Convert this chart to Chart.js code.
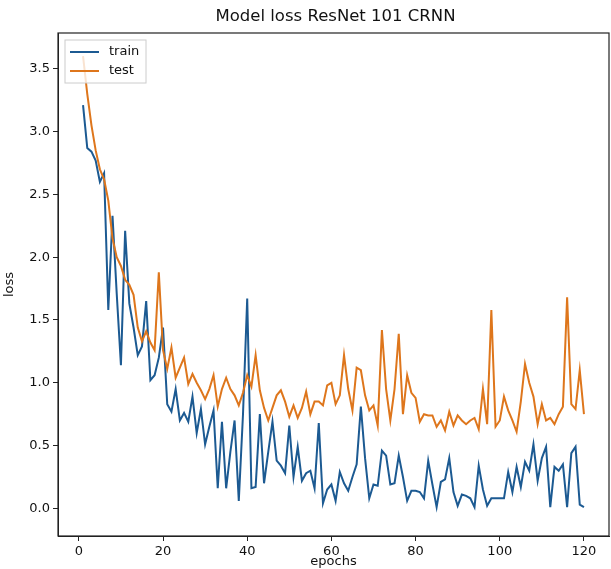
<!DOCTYPE html>
<html>
<head>
<meta charset="utf-8">
<script src="https://cdn.jsdelivr.net/npm/chart.js@4/dist/chart.umd.min.js"></script>
<style>
  html, body { margin: 0; padding: 0; background: #fff; }
  #wrap { width: 611px; height: 569px; }
</style>
</head>
<body>
<div id="wrap"><canvas id="lossChart" width="611" height="569"></canvas></div>
<script>
// epochs 1..120
const epochs = Array.from({ length: 120 }, (_, i) => i + 1);

const trainLoss = [
    3.21, 2.87, 2.84, 2.77, 2.60, 2.67, 1.58, 2.33, 1.71, 1.14,
    2.21, 1.63, 1.44, 1.22, 1.29, 1.65, 1.02, 1.06, 1.20, 1.44,
    0.83, 0.77, 0.95, 0.70, 0.76, 0.69, 0.89, 0.60, 0.79, 0.51,
    0.65, 0.78, 0.16, 0.69, 0.16, 0.45, 0.70, 0.06, 0.75, 1.67,
    0.16, 0.17, 0.75, 0.20, 0.45, 0.69, 0.38, 0.34, 0.28, 0.66,
    0.25, 0.49, 0.22, 0.28, 0.30, 0.16, 0.68, 0.04, 0.15, 0.19,
    0.06, 0.29, 0.20, 0.14, 0.25, 0.35, 0.81, 0.40, 0.08, 0.19,
    0.18, 0.46, 0.42, 0.19, 0.20, 0.42, 0.25, 0.06, 0.14, 0.14,
    0.13, 0.08, 0.38, 0.19, 0.01, 0.21, 0.23, 0.40, 0.13, 0.02,
    0.11, 0.10, 0.08, 0.01, 0.34, 0.15, 0.02, 0.08, 0.08, 0.08,
    0.08, 0.29, 0.13, 0.33, 0.17, 0.37, 0.30, 0.51, 0.22, 0.40,
    0.49, 0.01, 0.33, 0.30, 0.35, 0.01, 0.44, 0.49, 0.03, 0.01
];

const testLoss = [
    3.60, 3.30, 3.05, 2.85, 2.70, 2.62, 2.45, 2.15, 2.00, 1.93,
    1.82, 1.78, 1.70, 1.44, 1.33, 1.41, 1.32, 1.26, 1.88, 1.26,
    1.11, 1.28, 1.04, 1.12, 1.20, 0.99, 1.07, 1.00, 0.94, 0.87,
    0.95, 1.06, 0.81, 0.95, 1.04, 0.95, 0.90, 0.82, 0.92, 1.06,
    0.97, 1.22, 0.94, 0.80, 0.70, 0.80, 0.90, 0.94, 0.85, 0.73,
    0.82, 0.72, 0.80, 0.93, 0.75, 0.85, 0.85, 0.82, 0.98, 1.00,
    0.83, 0.90, 1.22, 0.95, 0.78, 1.12, 1.10, 0.90, 0.78, 0.82,
    0.66, 1.42, 0.95, 0.70, 0.95, 1.39, 0.75, 1.06, 0.92, 0.88,
    0.69, 0.75, 0.74, 0.74, 0.65, 0.70, 0.62, 0.77, 0.66, 0.74,
    0.70, 0.67, 0.70, 0.72, 0.63, 0.95, 0.67, 1.58, 0.65, 0.70,
    0.89, 0.78, 0.70, 0.61, 0.85, 1.15, 1.00, 0.89, 0.67, 0.83,
    0.70, 0.72, 0.67, 0.75, 0.81, 1.68, 0.83, 0.79, 1.10, 0.75
];

const seriesNames = ['train', 'test'];
const seriesColors = ['#1c5a92', '#de761c'];
const chartTitle = 'Model loss ResNet 101 CRNN';

const FONT = "'DejaVu Sans', sans-serif";

// matplotlib style: title over the axes, box around them, legend upper left
const frameAndLegend = {
    id: 'frameAndLegend',
    afterDraw(chart) {
        const { ctx, chartArea: a } = chart;
        ctx.save();
        ctx.strokeStyle = '#222';
        ctx.lineWidth = 1.2;
        ctx.strokeRect(a.left, a.top, a.right - a.left, a.bottom - a.top);

        ctx.fillStyle = '#111';
        ctx.font = '16.5px ' + FONT;
        ctx.textAlign = 'center';
        ctx.textBaseline = 'middle';
        ctx.fillText(chartTitle, (a.left + a.right) / 2 + 2, 17);

        // legend box
        const bx = a.left + 7, by = a.top + 7, bw = 81, bh = 43;
        ctx.fillStyle = 'rgba(255,255,255,0.8)';
        ctx.strokeStyle = '#ccc';
        ctx.lineWidth = 1;
        ctx.fillRect(bx, by, bw, bh);
        ctx.strokeRect(bx, by, bw, bh);
        ctx.font = '13px ' + FONT;
        ctx.textAlign = 'left';
        seriesNames.forEach((name, i) => {
            const y = by + 12 + i * 19;
            ctx.strokeStyle = seriesColors[i];
            ctx.lineWidth = 2;
            ctx.beginPath();
            ctx.moveTo(bx + 5, y);
            ctx.lineTo(bx + 34, y);
            ctx.stroke();
            ctx.fillStyle = '#111';
            ctx.fillText(name, bx + 44, y);
        });
        ctx.restore();
    }
};

new Chart(document.getElementById('lossChart'), {
    type: 'line',
    data: {
        labels: epochs,
        datasets: [
            {
                label: seriesNames[0],
                data: epochs.map((e, i) => ({ x: e, y: trainLoss[i] })),
                borderColor: seriesColors[0],
                borderWidth: 2,
                pointRadius: 0,
                tension: 0,
                order: 1
            },
            {
                label: seriesNames[1],
                data: epochs.map((e, i) => ({ x: e, y: testLoss[i] })),
                borderColor: seriesColors[1],
                borderWidth: 2,
                pointRadius: 0,
                tension: 0,
                order: 0
            }
        ]
    },
    options: {
        responsive: false,
        animation: false,
        layout: { padding: { top: 33, right: 2, bottom: 0, left: 0 } },
        plugins: {
            legend: { display: false },
            tooltip: { enabled: false },
            title: { display: false }
        },
        scales: {
            x: {
                type: 'linear',
                min: -4.95,
                max: 125.95,
                ticks: {
                    stepSize: 20,
                    includeBounds: false,
                    color: '#111',
                    padding: 3,
                    maxRotation: 0,
                    font: { family: FONT, size: 13 }
                },
                grid: { drawOnChartArea: false, drawTicks: true, tickLength: 5, color: '#222' },
                border: { color: '#222' },
                title: {
                    display: true,
                    text: 'epochs',
                    color: '#111',
                    font: { family: FONT, size: 13 },
                    padding: { top: 0, bottom: 0 }
                },
                afterFit(scale) { scale.height = 33; }
            },
            y: {
                min: -0.22,
                max: 3.785,
                ticks: {
                    stepSize: 0.5,
                    includeBounds: false,
                    color: '#111',
                    padding: 3,
                    font: { family: FONT, size: 13 },
                    callback: v => v.toFixed(1)
                },
                grid: { drawOnChartArea: false, drawTicks: true, tickLength: 5, color: '#222' },
                border: { color: '#222' },
                title: {
                    display: true,
                    text: 'loss',
                    color: '#111',
                    font: { family: FONT, size: 13 },
                    padding: { top: 2, bottom: 0 }
                },
                afterFit(scale) { scale.width = 58; }
            }
        }
    },
    plugins: [frameAndLegend]
});
</script>
</body>
</html>
